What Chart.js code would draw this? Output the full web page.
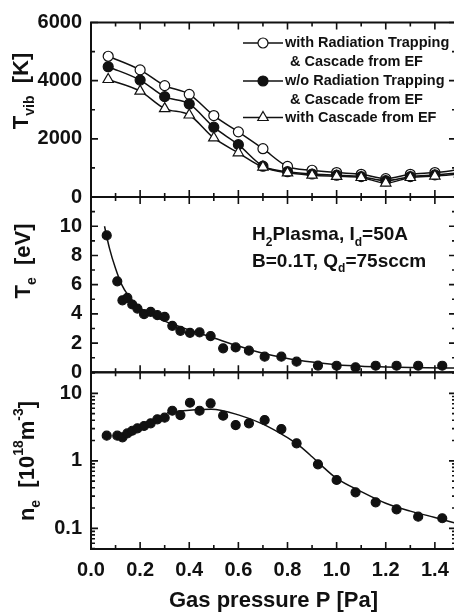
<!DOCTYPE html>
<html>
<head>
<meta charset="utf-8">
<script src="https://cdn.jsdelivr.net/npm/chart.js@4.4.0/dist/chart.umd.min.js"></script>
<style>
  html, body { margin: 0; padding: 0; background: #fff; }
  #wrap { position: relative; width: 454px; height: 614px; overflow: hidden; }
  canvas { position: absolute; left: 0; }
</style>
</head>
<body>
<div id="wrap">
  <canvas id="tvib" width="470" height="205" style="top:0"></canvas>
  <canvas id="te" width="470" height="190" style="top:190px"></canvas>
  <canvas id="ne" width="470" height="249" style="top:365px"></canvas>
</div>
<script>
// --- panel 1: vibrational temperature (simulation) ---
const pressureSim = [0.07, 0.2, 0.3, 0.4, 0.5, 0.6, 0.7, 0.8, 0.9, 1.0, 1.1, 1.2, 1.3, 1.4, 1.5];
const tvibRadTrap = [4840, 4370, 3830, 3530, 2800, 2240, 1660, 1050, 920, 840, 780, 630, 780, 840, 940];
const tvibNoTrap  = [4480, 4020, 3450, 3200, 2400, 1800, 1060, 870, 790, 750, 700, 560, 700, 760, 830];
const tvibCascade = [4040, 3640, 3040, 2820, 2030, 1520, 1030, 830, 750, 710, 670, 480, 670, 720, 790];

// --- panels 2 and 3: measured Te and ne ---
const pressureMeas = [0.064, 0.107, 0.128, 0.148, 0.168, 0.189, 0.216, 0.243, 0.27, 0.30, 0.331, 0.364,
  0.403, 0.442, 0.487, 0.538, 0.589, 0.643, 0.707, 0.775, 0.837, 0.924, 1.0, 1.077, 1.159, 1.244, 1.332, 1.43];
const teMeas = [9.37, 6.23, 4.93, 5.09, 4.64, 4.36, 3.98, 4.14, 3.91, 3.79, 3.18, 2.84,
  2.70, 2.73, 2.48, 1.64, 1.70, 1.48, 1.07, 1.07, 0.73, 0.46, 0.45, 0.34, 0.45, 0.45, 0.45, 0.45];
const neMeas = [2.36, 2.36, 2.23, 2.55, 2.79, 3.03, 3.28, 3.6, 4.12, 4.36, 5.52, 4.77,
  7.26, 5.52, 7.11, 4.66, 3.39, 3.6, 4.02, 2.96, 1.82, 0.887, 0.52, 0.341, 0.243, 0.191, 0.149, 0.141];

// fitted curves
const teFitP = [0.055, 0.075, 0.1, 0.125, 0.15, 0.2, 0.25, 0.3, 0.4, 0.5, 0.6, 0.7, 0.8, 0.9, 1.0, 1.1, 1.2, 1.3, 1.5];
const teFit  = [10.0, 8.5, 7.1, 6.0, 5.3, 4.4, 3.9, 3.5, 2.9, 2.35, 1.8, 1.3, 0.95, 0.7, 0.52, 0.42, 0.37, 0.33, 0.29];
const neFitP = [0.31, 0.4, 0.49, 0.6, 0.7, 0.8, 0.85, 0.9, 0.95, 1.0, 1.1, 1.2, 1.3, 1.4, 1.5];
const neFit  = [5.16, 5.6, 5.8, 4.8, 3.5, 2.2, 1.65, 1.15, 0.78, 0.55, 0.35, 0.235, 0.18, 0.145, 0.115];

// ticks
const xMajor = [0, 0.2, 0.4, 0.6, 0.8, 1.0, 1.2, 1.4];
const xMinor = [0.1, 0.3, 0.5, 0.7, 0.9, 1.1, 1.3];
const tvibMajor = [0, 2000, 4000, 6000];
const tvibMinor = [1000, 3000, 5000];
const teMajor = [0, 2, 4, 6, 8, 10, 12];
const teMinor = [1, 3, 5, 7, 9, 11];
const neMajor = [0.1, 1, 10];
const neMinor = [0.05, 0.06, 0.07, 0.08, 0.09, 0.2, 0.3, 0.4, 0.5, 0.6, 0.7, 0.8, 0.9,
  2, 3, 4, 5, 6, 7, 8, 9, 20];

const FONT = "'Liberation Sans', Arial, sans-serif";
Chart.defaults.font.family = FONT;
Chart.defaults.font.weight = 'bold';
Chart.defaults.font.size = 20;
Chart.defaults.color = '#111';

function pts(xs, ys) {
  return xs.map((x, i) => ({ x: x, y: ys[i] }));
}

// draw text with sub/superscripts: parts = [[text, 'n'|'sub'|'sup'], ...]
function richText(ctx, parts, x, y, size, rotate, align) {
  ctx.save();
  ctx.translate(x, y);
  if (rotate) ctx.rotate(-Math.PI / 2);
  ctx.fillStyle = '#111';
  ctx.textBaseline = 'middle';
  const small = Math.round(size * 0.62);
  let w = 0;
  parts.forEach(p => {
    ctx.font = 'bold ' + (p[1] === 'n' ? size : small) + 'px ' + FONT;
    w += ctx.measureText(p[0]).width;
  });
  let cx = align === 'left' ? 0 : -w / 2;
  parts.forEach(p => {
    const s = p[1] === 'n' ? size : small;
    ctx.font = 'bold ' + s + 'px ' + FONT;
    const dy = p[1] === 'sub' ? size * 0.38 : (p[1] === 'sup' ? -size * 0.38 : 0);
    ctx.fillText(p[0], cx, dy);
    cx += ctx.measureText(p[0]).width;
  });
  ctx.restore();
}

// frame with inward ticks on all sides, plus panel text
const framePlugin = {
  id: 'frame',
  afterDraw(chart, args, o) {
    const { ctx, chartArea: a } = chart;
    const xs = chart.scales.x, ys = chart.scales.y;
    ctx.save();
    ctx.strokeStyle = '#111';
    ctx.lineWidth = 2;
    ctx.strokeRect(a.left, a.top, a.right - a.left, a.bottom - a.top);
    ctx.lineWidth = 1.6;
    ctx.beginPath();
    const tickX = (v, len) => {
      const px = xs.getPixelForValue(v);
      ctx.moveTo(px, a.top); ctx.lineTo(px, a.top + len);
      ctx.moveTo(px, a.bottom); ctx.lineTo(px, a.bottom - len);
    };
    const tickY = (v, len) => {
      const py = ys.getPixelForValue(v);
      ctx.moveTo(a.left, py); ctx.lineTo(a.left + len, py);
      ctx.moveTo(a.right, py); ctx.lineTo(a.right - len, py);
    };
    xMajor.forEach(v => tickX(v, 7));
    xMinor.forEach(v => tickX(v, 4));
    o.yMajor.forEach(v => tickY(v, 7));
    o.yMinor.forEach(v => tickY(v, 4));
    ctx.stroke();
    ctx.restore();
    richText(ctx, o.title, o.titleX, o.titleY, 22, true);
    if (o.extra) o.extra(ctx);
  }
};

function noPad(s) {
  s.paddingTop = 0; s.paddingBottom = 0; s.paddingLeft = 0; s.paddingRight = 0;
}

function makeOptions(cfg) {
  return {
    responsive: false,
    animation: false,
    layout: { padding: cfg.padding },
    plugins: {
      legend: { display: false },
      tooltip: { enabled: false },
      frame: cfg.frame
    },
    scales: {
      x: Object.assign({
        type: 'linear', min: 0, max: 1.486,
        grid: { display: false, drawTicks: false },
        border: { display: false }
      }, cfg.x || { display: false }),
      y: Object.assign({
        grid: { display: false, drawTicks: false },
        border: { display: false },
        afterFit: s => { s.width = 91; noPad(s); }
      }, cfg.y)
    }
  };
}

function lineSet(data, style, fill, radius) {
  return {
    data: data, borderColor: '#111', borderWidth: 1.5, tension: 0.3,
    cubicInterpolationMode: 'monotone',
    pointStyle: style, pointRadius: radius, pointBackgroundColor: fill,
    pointBorderColor: '#111', pointBorderWidth: 1.2
  };
}

// panel 1
new Chart(document.getElementById('tvib'), {
  type: 'line',
  plugins: [framePlugin],
  data: {
    datasets: [
      lineSet(pts(pressureSim, tvibCascade), 'triangle', '#fff', 6),
      lineSet(pts(pressureSim, tvibNoTrap), 'circle', '#111', 5),
      lineSet(pts(pressureSim, tvibRadTrap), 'circle', '#fff', 5)
    ]
  },
  options: makeOptions({
    padding: { top: 22.5, bottom: 8, right: 14, left: 0 },
    y: {
      type: 'linear', min: 0, max: 6000,
      ticks: { stepSize: 2000, padding: 9, callback: v => String(v) }
    },
    frame: {
      yMajor: tvibMajor, yMinor: tvibMinor,
      title: [['T', 'n'], ['vib', 'sub'], ['  [K]', 'n']], titleX: 22, titleY: 91,
      extra: ctx => {
        const rows = [
          { y: 43, text: 'with Radiation Trapping', style: 'circle', fill: '#fff' },
          { y: 62, text: '& Cascade from EF' },
          { y: 81, text: 'w/o Radiation Trapping', style: 'circle', fill: '#111' },
          { y: 99.5, text: '& Cascade from EF' },
          { y: 117.5, text: 'with Cascade from EF', style: 'triangle', fill: '#fff' }
        ];
        ctx.save();
        ctx.font = 'bold 14.5px ' + FONT;
        ctx.textBaseline = 'middle';
        ctx.fillStyle = '#111';
        rows.forEach(r => {
          if (r.style) {
            ctx.strokeStyle = '#111';
            ctx.lineWidth = 1.5;
            ctx.beginPath(); ctx.moveTo(243, r.y); ctx.lineTo(283, r.y); ctx.stroke();
            ctx.lineWidth = 1.2;
            ctx.fillStyle = r.fill;
            Chart.helpers.drawPoint(ctx, { pointStyle: r.style, radius: r.style === 'triangle' ? 6 : 5, borderWidth: 1.2 }, 263, r.y);
            ctx.fillStyle = '#111';
            ctx.fillText(r.text, 285, r.y);
          } else {
            ctx.fillText(r.text, 290, r.y);
          }
        });
        ctx.restore();
      }
    }
  })
});

// panel 2
new Chart(document.getElementById('te'), {
  type: 'line',
  plugins: [framePlugin],
  data: {
    datasets: [
      lineSet(pts(teFitP, teFit), 'circle', '#111', 0),
      Object.assign(lineSet(pts(pressureMeas, teMeas), 'circle', '#111', 4.5), { showLine: false })
    ]
  },
  options: makeOptions({
    padding: { top: 7, bottom: 7.7, right: 14, left: 0 },
    y: {
      type: 'linear', min: 0, max: 12,
      ticks: { stepSize: 2, padding: 9, callback: v => (v === 12 ? '' : String(v)) }
    },
    frame: {
      yMajor: teMajor, yMinor: teMinor,
      title: [['T', 'n'], ['e', 'sub'], ['  [eV]', 'n']], titleX: 24, titleY: 71,
      extra: ctx => {
        richText(ctx, [['H', 'n'], ['2', 'sub'], ['Plasma, I', 'n'], ['d', 'sub'], ['=50A', 'n']], 252, 45, 19, false, 'left');
        richText(ctx, [['B=0.1T, Q', 'n'], ['d', 'sub'], ['=75sccm', 'n']], 252, 71.5, 19, false, 'left');
      }
    }
  })
});

// panel 3
new Chart(document.getElementById('ne'), {
  type: 'line',
  plugins: [framePlugin],
  data: {
    datasets: [
      lineSet(pts(neFitP, neFit), 'circle', '#111', 0),
      Object.assign(lineSet(pts(pressureMeas, neMeas), 'circle', '#111', 4.5), { showLine: false })
    ]
  },
  options: makeOptions({
    padding: { top: 7.3, bottom: 0, right: 14, left: 0 },
    x: {
      display: true,
      ticks: { stepSize: 0.2, padding: 9, callback: v => v.toFixed(1) },
      afterBuildTicks: s => { s.ticks = xMajor.map(v => ({ value: v })); },
      title: { display: true, text: 'Gas pressure P [Pa]', font: { size: 22, weight: 'bold' }, padding: { top: 4, bottom: 0 } },
      afterFit: s => { s.height = 65; noPad(s); }
    },
    y: {
      type: 'logarithmic', min: 0.0494, max: 20.5,
      afterBuildTicks: s => { s.ticks = neMajor.map(v => ({ value: v })); },
      ticks: { padding: 9, callback: v => String(v) }
    },
    frame: {
      yMajor: neMajor, yMinor: neMinor,
      title: [['n', 'n'], ['e', 'sub'], ['  [10', 'n'], ['18', 'sup'], ['m', 'n'], ['-3', 'sup'], [']', 'n']],
      titleX: 28, titleY: 96
    }
  })
});
</script>
</body>
</html>
